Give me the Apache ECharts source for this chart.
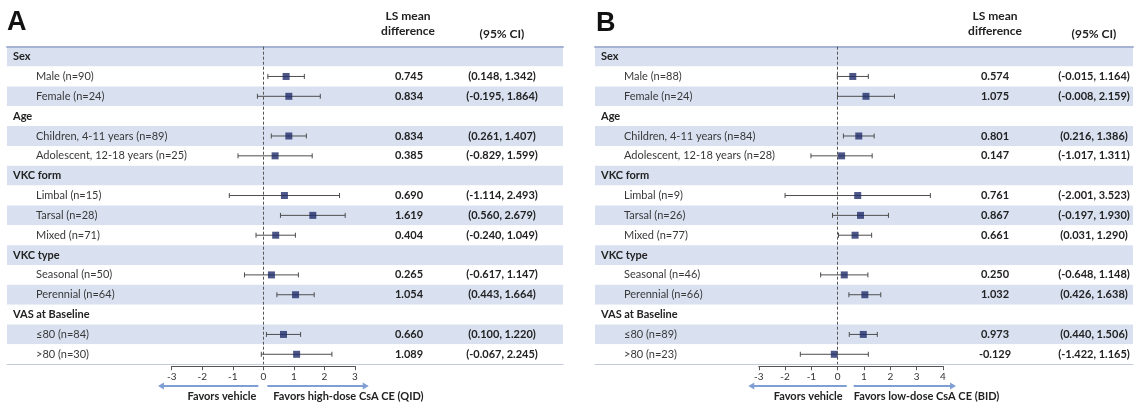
<!DOCTYPE html>
<html>
<head>
<meta charset="utf-8">
<script src="https://cdn.jsdelivr.net/npm/echarts@6/dist/echarts.min.js"></script>
<style>
  html, body { margin: 0; padding: 0; background: #fff; }
  #chart { width: 1139px; height: 403px; }
</style>
</head>
<body>
<div id="chart"></div>
<script>
// ---------- data ----------
const groupRows = [true, false, false, true, false, false, true, false, false, false, true, false, false, true, false, false];

const rowsA = ["Sex", "Male (n=90)", "Female (n=24)", "Age", "Children, 4-11 years (n=89)", "Adolescent, 12-18 years (n=25)",
  "VKC form", "Limbal (n=15)", "Tarsal (n=28)", "Mixed (n=71)", "VKC type", "Seasonal (n=50)", "Perennial (n=64)",
  "VAS at Baseline", "≤80 (n=84)", ">80 (n=30)"];
const meanA = [null, 0.745, 0.834, null, 0.834, 0.385, null, 0.690, 1.619, 0.404, null, 0.265, 1.054, null, 0.660, 1.089];
const lowA = [null, 0.148, -0.195, null, 0.261, -0.829, null, -1.114, 0.560, -0.240, null, -0.617, 0.443, null, 0.100, -0.067];
const highA = [null, 1.342, 1.864, null, 1.407, 1.599, null, 2.493, 2.679, 1.049, null, 1.147, 1.664, null, 1.220, 2.245];

const rowsB = ["Sex", "Male (n=88)", "Female (n=24)", "Age", "Children, 4-11 years (n=84)", "Adolescent, 12-18 years (n=28)",
  "VKC form", "Limbal (n=9)", "Tarsal (n=26)", "Mixed (n=77)", "VKC type", "Seasonal (n=46)", "Perennial (n=66)",
  "VAS at Baseline", "≤80 (n=89)", ">80 (n=23)"];
const meanB = [null, 0.574, 1.075, null, 0.801, 0.147, null, 0.761, 0.867, 0.661, null, 0.250, 1.032, null, 0.973, -0.129];
const lowB = [null, -0.015, -0.008, null, 0.216, -1.017, null, -2.001, -0.197, 0.031, null, -0.648, 0.426, null, 0.440, -1.422];
const highB = [null, 1.164, 2.159, null, 1.386, 1.311, null, 3.523, 1.930, 1.290, null, 1.148, 1.638, null, 1.506, 1.165];

const axisA = { min: -3, max: 3 };
const axisB = { min: -3, max: 4 };
const favorsA = "Favors high-dose CsA CE (QID)";
const favorsB = "Favors low-dose CsA CE (BID)";

// ---------- helpers ----------
const FONT = "Lato";
const SHADE = "#d9e1f1";
const chart = echarts.init(document.getElementById("chart"));

const fmt = (v) => v == null ? "" : v.toFixed(3);
const ci = (lo, hi) => lo == null ? "" : `(${lo.toFixed(3)}, ${hi.toFixed(3)})`;

function tableAxes(rows, means, lows, highs, grid, valOff, ciOff) {
  const base = { type: "category", data: rows, inverse: true, gridIndex: grid, position: "left",
    axisLine: { show: false }, axisTick: { show: false }, splitLine: { show: false } };
  return [
    { ...base,
      splitArea: { show: true, areaStyle: { color: [SHADE, "#ffffff"] } },
      axisLabel: { inside: true, margin: 6, interval: 0, fontFamily: FONT, fontSize: 11, color: "#333",
        formatter: (v, i) => groupRows[i] ? `{g|${v}}` : `{s|${v}}`,
        rich: { g: { fontFamily: FONT, fontSize: 11, fontWeight: "bold", color: "#222" },
                s: { fontFamily: FONT, fontSize: 11, color: "#383838", padding: [0, 0, 0, 23] } } } },
    { ...base, offset: valOff,
      axisLabel: { margin: 0, align: "center", interval: 0, fontFamily: FONT, fontSize: 11, fontWeight: "bold", color: "#222",
        formatter: (v, i) => fmt(means[i]) } },
    { ...base, offset: ciOff,
      axisLabel: { margin: 0, align: "center", interval: 0, fontFamily: FONT, fontSize: 11, fontWeight: "bold", color: "#222",
        formatter: (v, i) => ci(lows[i], highs[i]) } },
  ];
}

function tableXAxes(grid) {
  const off = { axisTick: { show: false }, axisLabel: { show: false }, splitLine: { show: false } };
  return [
    { type: "value", gridIndex: grid, min: 0, max: 1, position: "top", ...off,
      axisLine: { show: true, lineStyle: { color: "#a4b3d2", width: 2 } } },
    { type: "value", gridIndex: grid, min: 0, max: 1, position: "bottom", ...off,
      axisLine: { show: true, lineStyle: { color: "#c3cbdc", width: 1 } } },
  ];
}

function forestXAxis(grid, range) {
  return { type: "value", gridIndex: grid, min: range.min, max: range.max, interval: 1, position: "bottom", offset: 2,
    axisLine: { show: true, lineStyle: { color: "#555", width: 1 } },
    axisTick: { show: true, length: 4, lineStyle: { color: "#555" } },
    axisLabel: { margin: 6, fontFamily: FONT, fontSize: 10, color: "#333" },
    splitLine: { show: false } };
}

function forestSeries(rows, means, lows, highs, xi, yi) {
  const bars = rows.map((r, i) => [lows[i], highs[i], i]).filter(d => d[0] != null);
  const pts = rows.map((r, i) => [means[i], i]).filter(d => d[0] != null);
  return [
    { type: "custom", xAxisIndex: xi, yAxisIndex: yi, data: bars, z: 3, silent: true,
      renderItem(params, api) {
        const a = api.coord([api.value(0), api.value(2)]);
        const b = api.coord([api.value(1), api.value(2)]);
        const st = { stroke: "#4d4d4d", lineWidth: 1 };
        return { type: "group", children: [
          { type: "line", shape: { x1: a[0], y1: a[1], x2: b[0], y2: b[1] }, style: st },
          { type: "line", shape: { x1: a[0], y1: a[1] - 2.5, x2: a[0], y2: a[1] + 2.5 }, style: st },
          { type: "line", shape: { x1: b[0], y1: b[1] - 2.5, x2: b[0], y2: b[1] + 2.5 }, style: st },
        ] };
      } },
    { type: "scatter", xAxisIndex: xi, yAxisIndex: yi, data: pts, z: 4, symbol: "rect", symbolSize: 7,
      itemStyle: { color: "#1f2d6a" }, silent: true,
      markLine: { silent: true, symbol: "none", label: { show: false },
        lineStyle: { color: "#555", type: [3, 2], width: 1 }, data: [{ xAxis: 0 }] } },
  ];
}

const gridTop = 46.7, gridH = 317.5;
const hidY = (grid, rows) => ({ type: "category", data: rows, inverse: true, gridIndex: grid, show: false });

chart.setOption({
  backgroundColor: "#fff",
  animation: false,
  grid: [
    { left: 7, top: gridTop, width: 556, height: gridH },      // table A
    { left: 171.7, top: gridTop, width: 183.3, height: gridH }, // forest A
    { left: 595, top: gridTop, width: 538, height: gridH },    // table B
    { left: 758.8, top: gridTop, width: 184.1, height: gridH }, // forest B
  ],
  xAxis: [
    ...tableXAxes(0), forestXAxis(1, axisA),
    ...tableXAxes(2), forestXAxis(3, axisB),
  ],
  yAxis: [
    ...tableAxes(rowsA, meanA, lowA, highA, 0, -402, -495), hidY(1, rowsA),
    ...tableAxes(rowsB, meanB, lowB, highB, 2, -400, -499), hidY(3, rowsB),
  ],
  series: [
    ...forestSeries(rowsA, meanA, lowA, highA, 2, 3),
    ...forestSeries(rowsB, meanB, lowB, highB, 5, 7),
  ],
});

// ---------- headers, arrows, favors text ----------
function arrow(x1, x2, y) {
  const dir = x2 > x1 ? 1 : -1;
  return [
    { type: "line", shape: { x1, y1: y, x2: x2 - dir * 5, y2: y }, style: { stroke: "#7f9fd4", lineWidth: 2 } },
    { type: "polygon", shape: { points: [[x2, y], [x2 - dir * 6, y - 3.5], [x2 - dir * 6, y + 3.5]] }, style: { fill: "#7f9fd4" } },
  ];
}
const txt = (x, y, text, o = {}) => ({ type: "text", x, y,
  style: { text, fontFamily: FONT, fontSize: 12, fontWeight: "bold", fill: "#222", align: "center", verticalAlign: "middle", ...o } });

const px = (xi, v) => chart.convertToPixel({ xAxisIndex: xi }, v);
const zA = px(2, 0), zB = px(5, 0);
const yArrow = 386, yFav = 396.5;

chart.setOption({
  graphic: [
    txt(7, 23, "A", { fontFamily: "Liberation Sans", fontSize: 27, align: "left", fill: "#111" }),
    txt(596, 24, "B", { fontFamily: "Liberation Sans", fontSize: 27, align: "left", fill: "#111" }),
    txt(408, 16, "LS mean"), txt(408, 31, "difference"), txt(502, 34, "(95% CI)"),
    txt(995, 16, "LS mean"), txt(995, 31, "difference"), txt(1094, 34, "(95% CI)"),
    ...arrow(zA - 5, px(2, -3.45), yArrow), ...arrow(zA + 4, px(2, 3.45), yArrow),
    ...arrow(zB + 9, px(5, -3.4), yArrow), ...arrow(zB + 16, px(5, 4.5), yArrow),
    txt(zA - 7, yFav, "Favors vehicle", { fontSize: 11, align: "right" }),
    txt(zA + 10, yFav, favorsA, { fontSize: 11, align: "left" }),
    txt(zB + 5, yFav, "Favors vehicle", { fontSize: 11, align: "right" }),
    txt(zB + 16, yFav, favorsB, { fontSize: 11, align: "left" }),
  ],
});
</script>
</body>
</html>
